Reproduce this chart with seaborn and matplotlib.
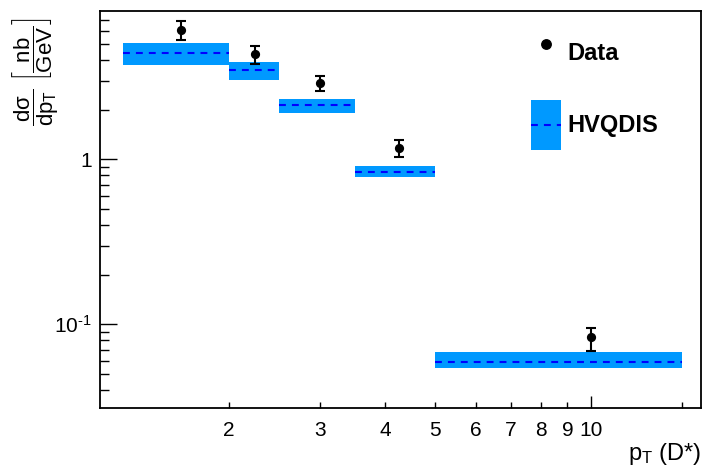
import matplotlib
matplotlib.use("Agg")
import matplotlib.pyplot as plt
import matplotlib.ticker as mticker
from matplotlib.lines import Line2D
from matplotlib.patches import Patch, Rectangle
from matplotlib.legend_handler import HandlerBase
import numpy as np
import seaborn as sns

# ---- data ----
bin_lo = [1.25, 2.0, 2.5, 3.5, 5.0]
bin_hi = [2.0, 2.5, 3.5, 5.0, 15.0]
data_x = [1.62, 2.25, 3.0, 4.26, 10.0]
data_y = [6.16, 4.36, 2.91, 1.166, 0.083]
data_err_lo = [0.81, 0.57, 0.31, 0.136, 0.0142]
data_err_hi = [0.79, 0.56, 0.29, 0.144, 0.012]
theory_y = [4.42, 3.49, 2.14, 0.837, 0.059]
theory_lo = [3.75, 3.04, 1.92, 0.778, 0.0543]
theory_hi = [5.13, 3.90, 2.32, 0.910, 0.0673]

x_minor_ticks = [2, 3, 4, 5, 6, 7, 8, 9, 15]
x_minor_labels = ["2", "3", "4", "5", "6", "7", "8", "9", ""]
x_major_ticks = [10]
x_major_labels = ["10"]
y_major_ticks = [0.1, 1]
y_major_labels = [r"$10^{\text{-1}}$", "1"]

sns.set_theme(style="ticks")
plt.rcParams["font.family"] = ["Liberation Sans", "DejaVu Sans"]
plt.rcParams["mathtext.fontset"] = "custom"
plt.rcParams["mathtext.rm"] = "Liberation Sans"
plt.rcParams["mathtext.it"] = "Liberation Sans"
plt.rcParams["mathtext.bf"] = "Liberation Sans:bold"

band_color = "#0099ff"
line_color = "#0000ff"
dash_style = (0, (3.3, 2.9))

fig = plt.figure(figsize=(7.04, 4.74), dpi=100)
ax = fig.add_axes([100/704, (474-408)/474, 601/704, 397/474])
ax.set_xscale("log")
ax.set_yscale("log")

# HVQDIS bands
lo = np.array(bin_lo); hi = np.array(bin_hi)
ax.bar(lo, np.array(theory_hi) - np.array(theory_lo), bottom=theory_lo,
       width=hi - lo, align="edge", color=band_color, linewidth=0, zorder=1)
ax.hlines(theory_y, lo, hi, colors=line_color, linewidth=1.5,
          linestyles=dash_style, zorder=2)

# Data
ax.errorbar(data_x, data_y, yerr=[data_err_lo, data_err_hi], fmt="none",
            ecolor="black", elinewidth=1.5, capsize=3.6, capthick=1.5, zorder=3)
sns.scatterplot(x=data_x, y=data_y, ax=ax, color="black", s=44,
                linewidth=0, zorder=4)

ax.set_xlim(1.128, 16.3)
ax.set_ylim(0.0309, 7.98)

# ticks
ax.xaxis.set_major_locator(mticker.FixedLocator(x_major_ticks))
ax.xaxis.set_major_formatter(mticker.FixedFormatter(x_major_labels))
ax.xaxis.set_minor_locator(mticker.FixedLocator(x_minor_ticks))
ax.xaxis.set_minor_formatter(mticker.FixedFormatter(x_minor_labels))
ax.yaxis.set_major_locator(mticker.FixedLocator(y_major_ticks))
ax.yaxis.set_major_formatter(mticker.FixedFormatter(y_major_labels))
ax.yaxis.set_minor_locator(mticker.LogLocator(base=10, subs=np.arange(2, 10)))
ax.yaxis.set_minor_formatter(mticker.NullFormatter())

ax.tick_params(axis="x", which="major", direction="in", length=8.6, width=1,
               pad=9, labelsize=15, color="black", labelcolor="black")
ax.tick_params(axis="x", which="minor", direction="in", length=4.3, width=1,
               pad=9, labelsize=15, color="black", labelcolor="black")
ax.tick_params(axis="y", which="major", direction="in", length=12.2, width=1,
               pad=6, labelsize=15, color="black", labelcolor="black")
ax.tick_params(axis="y", which="minor", direction="in", length=6.5, width=1,
               color="black")
ax.tick_params(top=False, right=False, which="both")

for s in ax.spines.values():
    s.set_visible(True)
    s.set_linewidth(1.3)
    s.set_color("black")

# labels
ax.set_ylabel(r"$\dfrac{\mathrm{d\sigma}}{\mathrm{dp_T}}\ \left[\dfrac{\mathrm{nb}}{\mathrm{GeV}}\right]$",
              fontsize=16, color="black")
ax.yaxis.label.set_ha("center")
ax.yaxis.label.set_va("center")
ax.yaxis.set_label_coords(-0.108, 0.846)
ax.set_xlabel(r"$\mathrm{p_T}$ (D*)", fontsize=17, color="black", ha="right", va="top")
ax.xaxis.set_label_coords(1.0, -0.082)


# legend: band with centred dashed line
class BandHandler(HandlerBase):
    def create_artists(self, legend, orig_handle, xdescent, ydescent,
                       width, height, fontsize, trans):
        rect = Rectangle((-xdescent, -ydescent), width, height,
                         facecolor=band_color, linewidth=0, transform=trans)
        yc = -ydescent + height / 2.0
        line = Line2D([-xdescent, -xdescent + width], [yc, yc],
                      color=line_color, lw=1.5, ls=dash_style, transform=trans)
        return [rect, line]


data_handle = Line2D([], [], marker="o", color="black", ls="none", markersize=6.8)
band_handle = Patch(facecolor=band_color, linewidth=0)
leg = ax.legend([data_handle, band_handle], ["Data", "HVQDIS"], loc="upper left",
                bbox_to_anchor=((531-100)/601, (408-28)/397),
                frameon=False, borderpad=0, borderaxespad=0,
                handlelength=1.25, handleheight=2.88, labelspacing=0.92,
                handletextpad=0.3, prop={"weight": "bold", "size": 17},
                handler_map={band_handle: BandHandler()})
for t in leg.get_texts():
    t.set_color("black")

fig.savefig("out.png", dpi=100)
